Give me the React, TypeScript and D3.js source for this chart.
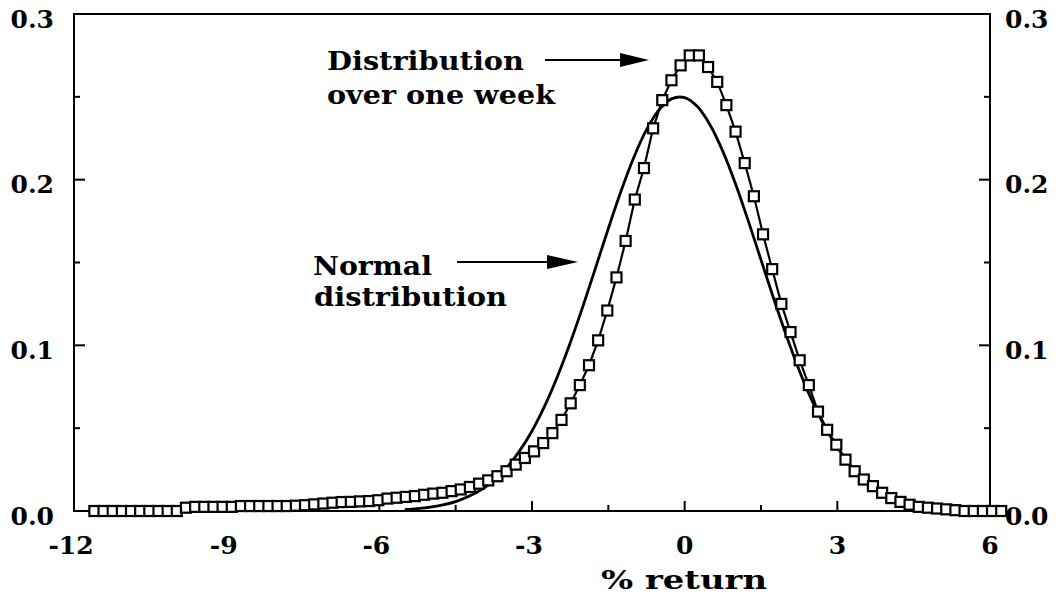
import React from "react";
import * as d3 from "d3";

// Weekly-return distribution (square markers), sampled every 0.18 starting at -11.6
const weekStart = -11.6;
const weekStep = 0.18;
const weekValues: number[] = [
  0, 0, 0, 0, 0, 0, 0, 0, 0, 0,
  0.002,
  0.0025, 0.0025, 0.0025, 0.0025, 0.0025,
  0.003, 0.003, 0.003, 0.003, 0.003, 0.003,
  0.0032, 0.0035, 0.004,
  0.0045, 0.005, 0.0054, 0.0055, 0.0058, 0.006, 0.0065,
  0.0075, 0.008, 0.0085, 0.009,
  0.0098, 0.0105, 0.011, 0.012, 0.013,
  0.0145, 0.0165, 0.0185, 0.021, 0.024, 0.028, 0.032, 0.036, 0.041, 0.047,
  0.055, 0.065, 0.076, 0.088, 0.103, 0.121, 0.141, 0.163, 0.188, 0.207,
  0.231, 0.248, 0.26, 0.269, 0.275, 0.275, 0.268, 0.259, 0.245, 0.229,
  0.21, 0.19, 0.167, 0.146, 0.125, 0.108, 0.091, 0.076, 0.06, 0.049,
  0.04, 0.031, 0.024, 0.019, 0.015, 0.011, 0.0078, 0.0055, 0.0038, 0.0025,
  0.002, 0.0015, 0.001, 0.0005,
  0, 0, 0, 0, 0,
];

// Normal distribution curve, read every 0.25 from -5.5 to 5.5
const normalX: number[] = [
  -5.5, -5.25, -5, -4.75, -4.5, -4.25, -4, -3.75, -3.5, -3.25, -3, -2.75, -2.5, -2.25, -2,
  -1.75, -1.5, -1.25, -1, -0.75, -0.5, -0.25, 0, 0.25, 0.5, 0.75, 1, 1.25, 1.5, 1.75, 2,
  2.25, 2.5, 2.75, 3, 3.25, 3.5, 3.75, 4, 4.25, 4.5, 4.75, 5, 5.25, 5.5,
];
const normalY: number[] = [
  0.0008, 0.0014, 0.0023, 0.0037, 0.0057, 0.0087, 0.0128, 0.0185, 0.0261, 0.036, 0.0483,
  0.0634, 0.0812, 0.1014, 0.1235, 0.1469, 0.1705, 0.1931, 0.2134, 0.2302, 0.2423, 0.2489,
  0.2495, 0.2441, 0.233, 0.2171, 0.1974, 0.1751, 0.1516, 0.1281, 0.1057, 0.085, 0.0668,
  0.0512, 0.0383, 0.0279, 0.0199, 0.0138, 0.0094, 0.0062, 0.004, 0.0025, 0.0016, 0.0009,
  0.0005,
];

const xTicks: number[] = [-12, -9, -6, -3, 0, 3, 6];
const xMinorTicks: number[] = [-10.5, -7.5, -4.5, -1.5, 1.5, 4.5];
const yTicks: number[] = [0, 0.1, 0.2, 0.3];
const yMinorTicks: number[] = [0.05, 0.15, 0.25];

const W = 1062;
const H = 596;
const L = 74;
const R = 990;
const T = 14;
const B = 511;

const FONT = "'DejaVu Serif', 'Liberation Serif', serif";

export default function App() {
  const x = d3.scaleLinear().domain([-12, 6]).range([L, R]);
  const y = d3.scaleLinear().domain([0, 0.3]).range([B, T]);

  const weekPts: [number, number][] = weekValues.map((v, i) => [weekStart + weekStep * i, v]);
  const normPts: [number, number][] = normalX.map((v, i) => [v, normalY[i]]);

  const line = d3
    .line<[number, number]>()
    .x((d) => x(d[0]))
    .y((d) => y(d[1]));
  const smooth = d3
    .line<[number, number]>()
    .x((d) => x(d[0]))
    .y((d) => y(d[1]))
    .curve(d3.curveCatmullRom);

  const yLabel = (v: number) => v.toFixed(1);
  const xLabel = (v: number) => String(v);

  return (
    <svg
      width={W}
      height={H}
      style={{ position: "absolute", left: 0, top: 0, background: "#fff" }}
      fontFamily={FONT}
    >
      <rect x={0} y={0} width={W} height={H} fill="#fff" />
      {/* frame */}
      <rect x={L} y={T} width={R - L} height={B - T} fill="none" stroke="#000" strokeWidth={2} />

      {/* y ticks both sides (inward) */}
      {yTicks.concat(yMinorTicks).map((t) => {
        const major = yTicks.includes(t);
        const len = major ? 11 : 6;
        if (t === 0 || t === 0.3) return null;
        return (
          <g key={"yt" + t}>
            <line x1={L} x2={L + len} y1={y(t)} y2={y(t)} stroke="#000" strokeWidth={2} />
            <line x1={R} x2={R - len} y1={y(t)} y2={y(t)} stroke="#000" strokeWidth={2} />
          </g>
        );
      })}
      {/* x ticks (inward) */}
      {xTicks.concat(xMinorTicks).map((t) => {
        const major = xTicks.includes(t);
        const len = major ? 10 : 6;
        if (t === -12 || t === 6) return null;
        return <line key={"xt" + t} x1={x(t)} x2={x(t)} y1={B} y2={B - len} stroke="#000" strokeWidth={2} />;
      })}

      {/* y labels */}
      {yTicks.map((t) => (
        <g key={"yl" + t}>
          <text x={54} y={y(t) + 5} textAnchor="end" dominantBaseline="central" fontSize={25} fontWeight="bold">
            {yLabel(t)}
          </text>
          <text x={1005} y={y(t) + 5} textAnchor="start" dominantBaseline="central" fontSize={25} fontWeight="bold">
            {yLabel(t)}
          </text>
        </g>
      ))}
      {/* x labels */}
      {xTicks.map((t) => (
        <text
          key={"xl" + t}
          x={x(t) + (t < 0 ? -3 : 0)}
          y={554}
          textAnchor="middle"
          fontSize={25}
          fontWeight="bold"
        >
          {xLabel(t)}
        </text>
      ))}
      <text x={684} y={589} textAnchor="middle" fontSize={26} fontWeight="bold" textLength={166} lengthAdjust="spacingAndGlyphs">
        % return
      </text>

      {/* normal curve */}
      <path d={smooth(normPts) || ""} fill="none" stroke="#000" strokeWidth={2.8} />

      {/* weekly distribution */}
      <path d={line(weekPts) || ""} fill="none" stroke="#000" strokeWidth={2.2} />
      {weekPts.map((p, i) => (
        <rect
          key={"sq" + i}
          x={x(p[0]) - 5}
          y={y(p[1]) - 5}
          width={10}
          height={10}
          fill="#fff"
          stroke="#000"
          strokeWidth={2.2}
        />
      ))}

      {/* annotations */}
      <text x={327} y={70} fontSize={26} fontWeight="bold" textLength={197} lengthAdjust="spacingAndGlyphs">
        Distribution
      </text>
      <text x={327} y={104} fontSize={26} fontWeight="bold" textLength={228} lengthAdjust="spacingAndGlyphs">
        over one week
      </text>
      <line x1={545} x2={625} y1={60} y2={60} stroke="#000" strokeWidth={2} />
      <path d="M 620 53 L 649 60 L 620 67 Z" fill="#000" />

      <text x={313} y={275} fontSize={26} fontWeight="bold" textLength={119} lengthAdjust="spacingAndGlyphs">
        Normal
      </text>
      <text x={314} y={306} fontSize={26} fontWeight="bold" textLength={193} lengthAdjust="spacingAndGlyphs">
        distribution
      </text>
      <line x1={457} x2={552} y1={262} y2={262} stroke="#000" strokeWidth={2} />
      <path d="M 547 255 L 578 262 L 547 269 Z" fill="#000" />
    </svg>
  );
}
